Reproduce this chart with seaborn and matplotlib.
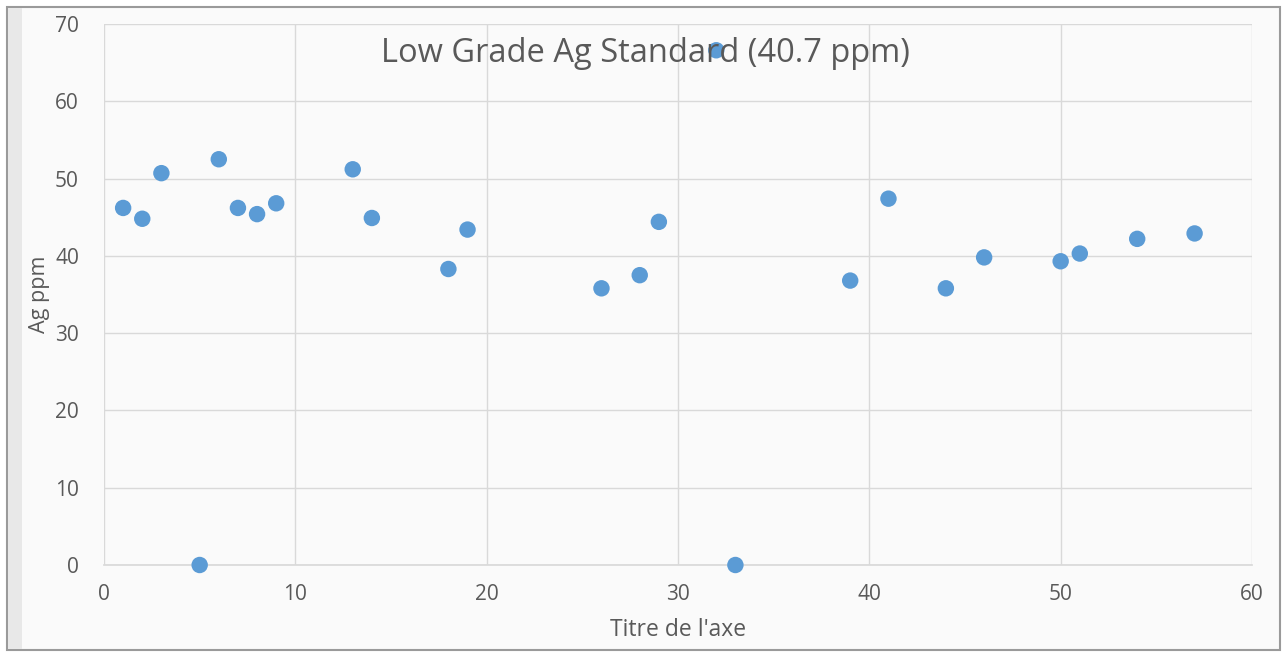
import matplotlib
matplotlib.use("Agg")
import matplotlib.pyplot as plt
import seaborn as sns
import pandas as pd
from matplotlib.patches import Rectangle

sample = [1, 2, 3, 5, 6, 7, 8, 9, 13, 14, 18, 19, 26, 28, 29, 32, 33, 39, 41, 44, 46, 50, 51, 54, 57]
ag_ppm = [46.2, 44.8, 50.7, 0, 52.5, 46.2, 45.4, 46.8, 51.2, 44.9, 38.3, 43.4, 35.8, 37.5, 44.4,
          66.6, 0, 36.8, 47.4, 35.8, 39.8, 39.3, 40.3, 42.2, 42.9]
x_ticks = [0, 10, 20, 30, 40, 50, 60]
y_ticks = [0, 10, 20, 30, 40, 50, 60, 70]
title = "Low Grade Ag Standard (40.7 ppm)"
x_label = "Titre de l'axe"
y_label = "Ag ppm"

df = pd.DataFrame({"x": sample, "y": ag_ppm})

sns.set_theme(style="white")
plt.rcParams['font.family'] = ['Open Sans', 'DejaVu Sans']

W, H = 1283, 654
fig = plt.figure(figsize=(W / 100, H / 100), dpi=100)
fig.patch.set_facecolor("white")

# frame
fig.patches.append(Rectangle((7 / W, 1 - 650 / H), 1273 / W, 643 / H, transform=fig.transFigure,
                             facecolor="#fafafa", edgecolor="#9a9a9a", linewidth=1.5, zorder=-10))
fig.patches.append(Rectangle((8 / W, 1 - 649 / H), 14 / W, 641 / H, transform=fig.transFigure,
                             facecolor="#e8e8e8", edgecolor="none", zorder=-9))

ax = fig.add_axes([104 / W, 1 - 565 / H, (1252 - 104) / W, (565 - 24) / H])
ax.set_facecolor("#fafafa")
sns.scatterplot(data=df, x="x", y="y", ax=ax, color="#5B9BD5", s=140, edgecolor="none",
                clip_on=False, zorder=3, legend=False)

ax.set_xlim(0, 60)
ax.set_ylim(0, 70)
ax.set_xticks(x_ticks)
ax.set_yticks(y_ticks)
ax.grid(True, color="#d9d9d9", linewidth=1)
ax.set_axisbelow(True)
for s in ["top", "right", "left"]:
    ax.spines[s].set_visible(False)
ax.spines["bottom"].set_color("#d9d9d9")
ax.tick_params(axis="both", length=0, labelsize=15, colors="#595959")
ax.tick_params(axis="x", pad=14)
ax.tick_params(axis="y", pad=18)

ax.set_xlabel(x_label, fontsize=16.5, color="#595959", labelpad=9)
ax.set_ylabel(y_label, fontsize=15.5, color="#595959", labelpad=4)

fig.text(645 / W, 1 - 53 / H, title, ha="center", va="center", fontsize=23.5, color="#595959")

fig.savefig("out.png", dpi=100)
